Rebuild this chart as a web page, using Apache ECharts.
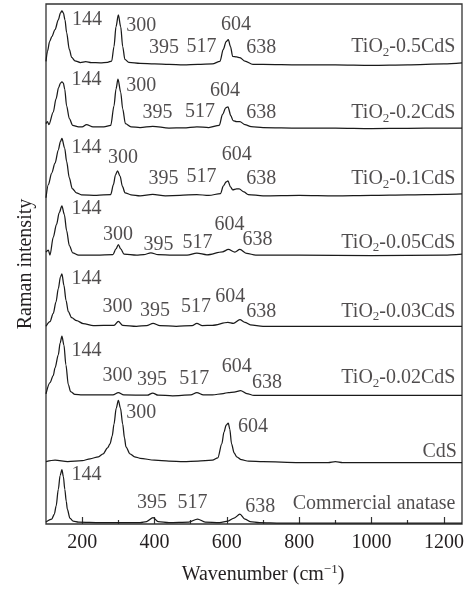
<!DOCTYPE html>
<html>
<head>
<meta charset="utf-8">
<script src="https://cdn.jsdelivr.net/npm/echarts@6/dist/echarts.min.js"></script>
<style>
  html, body { margin: 0; padding: 0; background: #fff; }
  #chart { width: 467px; height: 590px; }
</style>
</head>
<body>
<div id="chart"></div>
<script>
// Raman spectra, [wavenumber (cm-1), intensity above own baseline (a.u.)]
const tio2_05CdS = [
  [100, 2], [104, 12], [110, 22], [116, 27], [125, 34], [134, 44], [140, 51], [144, 53],
  [148, 51], [152.5, 44], [157, 31], [164.5, 14], [171, 6], [180, 2.5], [195, 0.8],
  [210, 1.7], [225, 0.7], [250, 0.5], [270, 1], [281.6, 2.3], [288, 17], [293.5, 37],
  [300, 49], [306.5, 37], [312, 17], [318, 4], [329, 1], [360, 0], [400, -0.5],
  [440, -1], [480, -1.5], [520, -1], [560, -0.5], [581, 2], [590, 14], [598, 22],
  [604, 24], [610, 17], [616, 7], [627, 6.5], [636, 5.7], [650, 2.3], [672, -1],
  [700, -1], [800, -1.5], [900, -1.5], [1000, -2], [1100, -1.5], [1200, -0.5], [1250, 0.5]
];
const tio2_02CdS = [
  [100, 4], [104, 6], [108, 3], [120, 15.7], [127.7, 29], [135, 40.7], [140, 45], [144, 46.3],
  [148, 45], [151.7, 39], [157, 22], [164.5, 9], [173.8, 2.3], [190, 0.7], [200, 0.7],
  [212, 3], [230, 0.7], [260, 0.7], [279, 2.3], [288, 22], [293.5, 39], [299, 49],
  [306.5, 35.7], [312, 19], [319.5, 4], [335, 0.7], [360, 0], [395, 1.3], [440, -0.5],
  [480, -0.3], [517, 0.8], [550, 0], [579, 2.3], [588, 13.3], [597, 20], [603, 21],
  [611, 12], [617, 7], [627, 6], [636, 6], [650, 3], [667, 1], [700, 0], [800, -0.5],
  [900, -0.5], [1000, -1], [1100, -0.7], [1200, -0.5], [1250, -0.5]
];
const tio2_01CdS = [
  [100, -2], [106.5, 11.3], [115.7, 23], [125, 33], [134, 46.3], [140, 55], [144, 58],
  [151.7, 48], [157, 34.7], [164.5, 18], [172.6, 7.3], [184, 3], [198, 1], [240, 0.5],
  [279, 1.3], [286.4, 11.3], [292, 21], [297.6, 25.3], [305, 19.7], [311, 9.7],
  [318.5, 3], [335, 1], [360, 0], [395, 1.5], [430, 0], [470, 0.3], [517, 1.3],
  [550, 0.3], [582.6, 2.3], [590, 9.7], [598, 14], [603, 15], [610, 9], [616, 6],
  [627, 7], [634, 7], [647, 4], [659, 1.3], [700, 0], [800, 0.5], [900, 0],
  [1000, 0.5], [1100, 1], [1200, 1.5], [1250, 2]
];
const tio2_005CdS = [
  [100, 3], [106.5, 5], [111, 0], [120, 18], [129, 31], [136.7, 43], [144, 49.7],
  [150.8, 41], [157, 24.7], [164.5, 9.7], [173.8, 2.3], [190, 0], [240, 0],
  [285, 0.5], [293.5, 6.3], [300, 10.7], [306.5, 6.3], [315.7, 1], [350, 0],
  [370, 0.5], [390, 2.3], [410, 0.5], [450, 0], [490, 0], [517, 2], [545, 0.3],
  [588, 3.3], [604, 5.7], [622, 3], [636, 5.7], [655, 1.7], [680, 0], [800, 0],
  [1000, -0.5], [1200, 0], [1250, 1]
];
const tio2_003CdS = [
  [100, 0], [111, 4.7], [120, 13], [127.7, 24.7], [134, 38], [140, 50], [144, 53],
  [149.6, 41.3], [155.3, 26.3], [161.7, 14.7], [171, 8.7], [184.8, 5.7], [203, 2.7],
  [231, 0.7], [288, 1], [300, 5], [312, 1], [350, 0], [378, 0.7], [396, 3],
  [415, 0.7], [460, 0], [504, 0.7], [517, 3], [532, 0.7], [560, 1], [603, 4],
  [618, 3], [636, 6.7], [650, 4], [665, 1.5], [700, 0], [800, 0], [1000, 0], [1250, 0]
];
const tio2_002CdS = [
  [100, 1.7], [111, 13], [120, 20], [125, 28], [134, 41], [139, 53], [144, 60],
  [149.6, 51], [155, 31], [161.7, 11], [168, 4], [180, 1], [200, 0.5], [285, 0.5],
  [300, 3], [315, 0.5], [380, 0.3], [395, 2.5], [410, 0.3], [450, -0.3], [500, 0.5],
  [517, 3], [535, 0.5], [560, 0.5], [590, 2], [604, 3], [620, 3.5], [638, 5],
  [655, 2], [675, 0], [800, 0], [1000, 0], [1250, 0]
];
const cds = [
  [100, 0], [125, 1.5], [160, 0], [200, 1], [222, 3], [245, 5], [258, 8], [270, 14],
  [277, 18], [283, 26], [288, 38], [294, 54], [300, 62], [306, 54], [312, 38],
  [317, 24], [321, 15], [332, 8], [345, 5], [360, 3.5], [400, 1.5], [440, 0.5],
  [480, 0], [520, 0.5], [560, 1.5], [575, 4], [586, 18], [592, 30], [598, 37],
  [604, 39], [608, 33], [613, 18], [620, 9], [627, 5], [640, 2], [660, 0.5],
  [700, 0], [800, -1], [880, -1], [900, 0], [920, -1], [1000, -1], [1100, -1],
  [1200, -1], [1250, -1]
];
const anatase = [
  [100, 1], [116, 4], [123, 9], [128, 17], [134, 34], [139, 48], [144, 54], [148, 47],
  [152, 34], [156, 22], [159, 14], [166, 5], [175, 2], [190, 1], [250, 0.5],
  [300, 0.5], [360, 0.5], [378, 1.5], [396, 5.5], [410, 1.5], [440, 0.5], [495, 1],
  [519, 4], [540, 1], [580, 0.5], [603, 2], [620, 5], [636, 9], [650, 4], [664, 1.5],
  [690, 0.5], [750, 0], [1250, 0]
];

// sample names, top to bottom
const sampleNames = [
  'TiO2-0.5CdS', 'TiO2-0.2CdS', 'TiO2-0.1CdS', 'TiO2-0.05CdS',
  'TiO2-0.03CdS', 'TiO2-0.02CdS', 'CdS', 'Commercial anatase'
];
const spectraList = [tio2_05CdS, tio2_02CdS, tio2_01CdS, tio2_005CdS,
                     tio2_003CdS, tio2_002CdS, cds, anatase];

// vertical stacking offset for each trace (a.u.)
const stackOffsets = [466, 401, 332, 272, 200, 130, 63, 1];

// x-axis ticks
const tickLabels = [200, 400, 600, 800, 1000, 1200];
const minorTicks = [300, 500, 700, 900, 1100];

// band labels: [text, label centre wavenumber, height above trace baseline]
const bandLabelSpots = [
  [['144', 213, 44.5], ['300', 363, 38], ['395', 426, 15.5], ['517', 530, 16.5], ['604', 625, 39], ['638', 695, 16]],
  [['144', 212, 48], ['300', 363, 42], ['395', 408, 15], ['517', 526, 16.5], ['604', 595, 37], ['638', 695, 14.5]],
  [['144', 212, 48.5], ['300', 313, 38], ['395', 425, 17], ['517', 530, 19.5], ['604', 627, 42], ['638', 695, 17]],
  [['144', 212, 47], ['300', 299, 21], ['395', 411, 10.5], ['517', 519, 13], ['604', 607, 31], ['638', 685, 15.5]],
  [['144', 212, 48.5], ['300', 298, 20], ['395', 401, 16], ['517', 515, 19.5], ['604', 609, 29.5], ['638', 695, 15]],
  [['144', 212, 45], ['300', 298, 19.5], ['395', 393, 16], ['517', 510, 16.5], ['604', 627, 29.5], ['638', 711, 13]],
  [['300', 363, 50], ['604', 672, 35.5]],
  [['144', 212, 49], ['395', 393, 20.5], ['517', 505, 20.5], ['638', 692, 16.5]]
];
// sample-name placement: [right edge wavenumber, height above trace baseline]
const nameSpots = [[1232, 16.5], [1232, 15], [1232, 17], [1232, 13], [1232, 15], [1232, 18], [1236, 10], [1232, 19]];

const FONT = 'Liberation Serif';
const INK = '#231f20';

function richName(name) {
  if (name.indexOf('TiO2') === 0) {
    return '{m|TiO}{s|2}{m|' + name.slice(4) + '}';
  }
  return '{m|' + name + '}';
}
const nameRich = {
  m: { fontFamily: FONT, fontSize: 20, lineHeight: 24, color: INK },
  s: { fontFamily: FONT, fontSize: 13, lineHeight: 10, color: INK, verticalAlign: 'bottom' }
};

const series = [];
spectraList.forEach((trace, i) => {
  series.push({
    type: 'line',
    name: sampleNames[i],
    data: trace.map(p => [p[0], p[1] + stackOffsets[i]]),
    showSymbol: false,
    smooth: 0.3,
    smoothMonotone: 'x',
    lineStyle: { color: '#1a1a1a', width: 1.25 },
    silent: true,
    z: 3
  });
});

const labelData = [];
bandLabelSpots.forEach((list, i) => {
  list.forEach(([text, w, h]) => {
    labelData.push({
      value: [w, stackOffsets[i] + h],
      label: { show: true, position: 'inside', formatter: text,
               fontFamily: FONT, fontSize: 20, color: INK, align: 'center', verticalAlign: 'middle' }
    });
  });
  const [nw, nh] = nameSpots[i];
  labelData.push({
    value: [nw, stackOffsets[i] + nh],
    label: { show: true, position: 'left', distance: 0, formatter: richName(sampleNames[i]),
             rich: nameRich, align: 'right', verticalAlign: 'middle' }
  });
});
series.push({
  type: 'scatter',
  data: labelData,
  symbolSize: 0,
  silent: true,
  z: 5
});

const chart = echarts.init(document.getElementById('chart'), null, { renderer: 'canvas' });
chart.setOption({
  animation: false,
  backgroundColor: '#fff',
  grid: {
    left: 46, right: 5, top: 4, bottom: 60,
    show: true, borderColor: '#333', borderWidth: 1.3, backgroundColor: 'transparent'
  },
  xAxis: [
    {
      type: 'value', min: 100, max: 1250,
      name: '{a|Wavenumber (cm}{p|\u22121}{a|)}',
      nameLocation: 'middle', nameGap: 39,
      nameTextStyle: {
        padding: [0, 0, 0, 18],
        rich: {
          a: { fontFamily: FONT, fontSize: 20, lineHeight: 24, color: INK },
          p: { fontFamily: FONT, fontSize: 13, lineHeight: 12, color: INK, verticalAlign: 'top' }
        }
      },
      axisLine: { show: false },
      splitLine: { show: false },
      axisTick: { show: true, inside: true, length: 7, customValues: tickLabels,
                  lineStyle: { color: '#333', width: 1.2 } },
      axisLabel: { show: true, customValues: tickLabels, margin: 9,
                   formatter: v => String(v),
                   fontFamily: FONT, fontSize: 20, color: INK }
    },
    {
      type: 'value', min: 100, max: 1250, position: 'bottom',
      axisLine: { show: false },
      splitLine: { show: false },
      axisTick: { show: true, inside: true, length: 4, customValues: minorTicks,
                  lineStyle: { color: '#333', width: 1.2 } },
      axisLabel: { show: false }
    }
  ],
  yAxis: {
    type: 'value', min: 0, max: 526,
    name: 'Raman intensity', nameLocation: 'middle', nameGap: 10,
    nameTextStyle: { fontFamily: FONT, fontSize: 20, color: INK },
    axisLine: { show: false }, axisTick: { show: false },
    axisLabel: { show: false }, splitLine: { show: false }
  },
  series: series
});
</script>
</body>
</html>
